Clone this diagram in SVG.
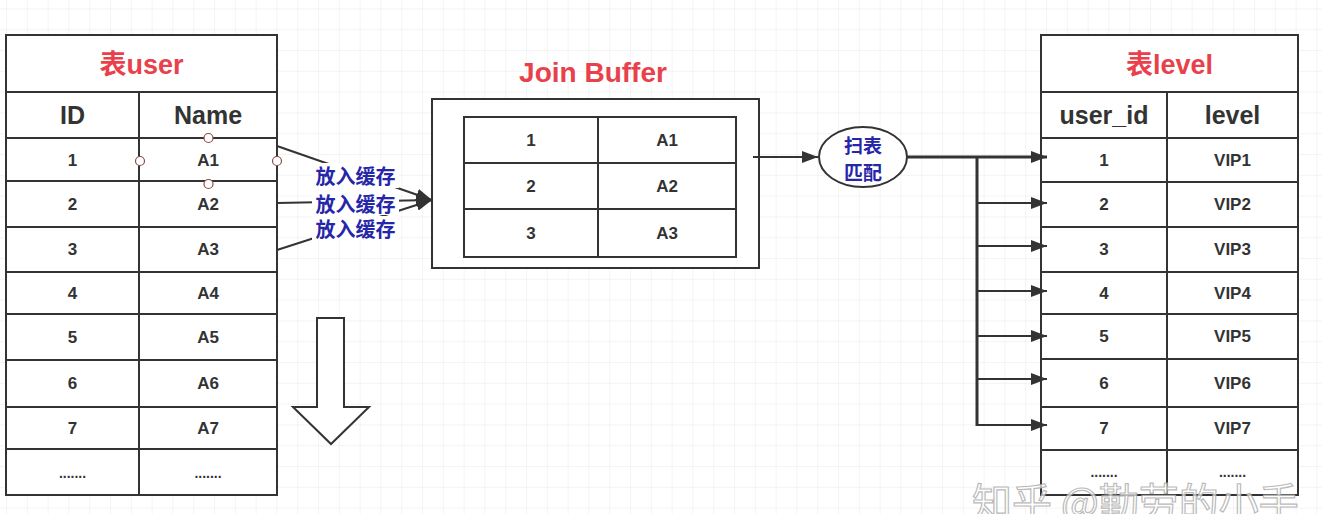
<svg xmlns="http://www.w3.org/2000/svg" width="1322" height="514" viewBox="0 0 1322 514">
<style>
.cell{fill:#fff;stroke:#333;stroke-width:2}
.ln{stroke:#333;stroke-width:2;fill:none}
.t{font-family:"Liberation Sans","Noto Sans CJK SC",sans-serif;font-weight:bold;fill:#333;text-anchor:middle;dominant-baseline:central}
.title{font-size:27px;fill:#e8414b}
.hd{font-size:25px}
.v{font-size:17px}
.dots{font-size:14px}
.lab{font-family:"Noto Sans CJK SC",sans-serif;font-weight:bold;fill:#2626a8;text-anchor:middle;dominant-baseline:central;font-size:20px}
.conn{stroke:#333;stroke-width:2;fill:none;marker-end:url(#ah)}
.pt{fill:#fff;stroke:#8a4b4b;stroke-width:1.2}
</style>
<defs>
<pattern id="grid" patternUnits="userSpaceOnUse" x="6" y="8.4" width="20.8" height="20.8">
<path d="M20.8 0H0V20.8" fill="none" stroke="#eaeaea" stroke-width="1"/>
</pattern>
<marker id="ah" markerUnits="userSpaceOnUse" markerWidth="17" markerHeight="13" refX="16" refY="6" orient="auto">
<path d="M0 0L16 6L0 12Z" fill="#333"/>
</marker>
</defs>
<rect width="1322" height="514" fill="#fff"/>
<rect width="1322" height="514" fill="url(#grid)"/>

<g id="table-user">
<rect class="cell" x="6" y="35" width="271" height="57"/>
<text class="t title" x="141.5" y="65">表user</text>
<rect class="cell" x="6" y="92" width="271" height="403"/>
<path class="ln" d="M139 92V495M6 138H277M6 181H277M6 227H277M6 272H277M6 314H277M6 360H277M6 407H277M6 449H277"/>
<text class="t hd" x="72.5" y="115">ID</text>
<text class="t hd" x="208" y="115">Name</text>
<text class="t v" x="72.5" y="160">1</text><text class="t v" x="208" y="160">A1</text>
<text class="t v" x="72.5" y="204">2</text><text class="t v" x="208" y="204">A2</text>
<text class="t v" x="72.5" y="249.5">3</text><text class="t v" x="208" y="249.5">A3</text>
<text class="t v" x="72.5" y="293">4</text><text class="t v" x="208" y="293">A4</text>
<text class="t v" x="72.5" y="337">5</text><text class="t v" x="208" y="337">A5</text>
<text class="t v" x="72.5" y="383.5">6</text><text class="t v" x="208" y="383.5">A6</text>
<text class="t v" x="72.5" y="428">7</text><text class="t v" x="208" y="428">A7</text>
<text class="t dots" x="72.5" y="473">.......</text><text class="t dots" x="208" y="473">.......</text>
<circle class="pt" cx="208.5" cy="138" r="4.5"/>
<circle class="pt" cx="140" cy="161" r="4.5"/>
<circle class="pt" cx="277" cy="161" r="4.5"/>
<circle class="pt" cx="208.5" cy="184" r="4.5"/>
</g>

<g id="down-arrow">
<polygon points="317,318 344,318 344,407 369,407 331,444 293,407 317,407" fill="#fff" stroke="#333" stroke-width="2"/>
</g>

<g id="join-buffer">
<text class="t title" x="593" y="72" style="font-size:28px">Join Buffer</text>
<rect class="cell" x="432" y="99" width="327" height="169"/>
<rect class="cell" x="464" y="117" width="272" height="140"/>
<path class="ln" d="M598 117V257M464 163H736M464 209H736"/>
<text class="t v" x="531" y="140">1</text><text class="t v" x="667" y="140">A1</text>
<text class="t v" x="531" y="186">2</text><text class="t v" x="667" y="186">A2</text>
<text class="t v" x="531" y="233">3</text><text class="t v" x="667" y="233">A3</text>
</g>

<g id="table-level">
<rect class="cell" x="1041" y="35" width="257" height="57"/>
<text class="t title" x="1169.5" y="65">表level</text>
<rect class="cell" x="1041" y="92" width="257" height="403"/>
<path class="ln" d="M1167 92V495M1041 138H1298M1041 182H1298M1041 227H1298M1041 272H1298M1041 314H1298M1041 359H1298M1041 407H1298M1041 450H1298"/>
<text class="t hd" x="1104" y="115">user_id</text>
<text class="t hd" x="1232.5" y="115">level</text>
<text class="t v" x="1104" y="160">1</text><text class="t v" x="1232.5" y="160">VIP1</text>
<text class="t v" x="1104" y="204.5">2</text><text class="t v" x="1232.5" y="204.5">VIP2</text>
<text class="t v" x="1104" y="249.5">3</text><text class="t v" x="1232.5" y="249.5">VIP3</text>
<text class="t v" x="1104" y="293">4</text><text class="t v" x="1232.5" y="293">VIP4</text>
<text class="t v" x="1104" y="336.5">5</text><text class="t v" x="1232.5" y="336.5">VIP5</text>
<text class="t v" x="1104" y="383">6</text><text class="t v" x="1232.5" y="383">VIP6</text>
<text class="t v" x="1104" y="428.5">7</text><text class="t v" x="1232.5" y="428.5">VIP7</text>
<text class="t dots" x="1104" y="472">.......</text><text class="t dots" x="1232.5" y="472">.......</text>
</g>

<g id="connectors">
<line class="conn" x1="277" y1="146" x2="432" y2="200"/>
<line class="conn" x1="277" y1="203" x2="432" y2="200"/>
<line class="conn" x1="277" y1="250" x2="432" y2="200"/>
<line class="conn" x1="753" y1="157" x2="818" y2="157"/>
<line class="conn" x1="907" y1="157" x2="1047" y2="157" style="stroke-width:3"/>
<line class="ln" x1="977" y1="157" x2="977" y2="426" style="stroke-width:3"/>
<line class="conn" x1="977" y1="203" x2="1047" y2="203"/>
<line class="conn" x1="977" y1="246" x2="1047" y2="246"/>
<line class="conn" x1="977" y1="291" x2="1047" y2="291"/>
<line class="conn" x1="977" y1="336" x2="1047" y2="336"/>
<line class="conn" x1="977" y1="379" x2="1047" y2="379"/>
<line class="conn" x1="977" y1="425" x2="1047" y2="425"/>
<rect x="312" y="163" width="87" height="25" fill="#fff"/>
<text class="lab" x="355.5" y="175">放入缓存</text>
<rect x="312" y="191" width="87" height="24" fill="#fff"/>
<text class="lab" x="355.5" y="203">放入缓存</text>
<rect x="312" y="216" width="87" height="24" fill="#fff"/>
<text class="lab" x="355.5" y="228">放入缓存</text>
</g>

<g id="scan-match">
<ellipse cx="863" cy="157" rx="44" ry="30" fill="#fff" stroke="#333" stroke-width="2"/>
<text class="lab" x="863" y="144.5" style="font-size:19px">扫表</text>
<text class="lab" x="863" y="171" style="font-size:19px">匹配</text>
</g>

<g id="watermark">
<text x="972" y="517" font-family="Noto Sans CJK SC, sans-serif" font-size="40" fill="#fff" fill-opacity="0.7" stroke="#a8a8a8" stroke-width="1.2" stroke-opacity="0.8">知乎 @勤劳的小手</text>
</g>
</svg>
